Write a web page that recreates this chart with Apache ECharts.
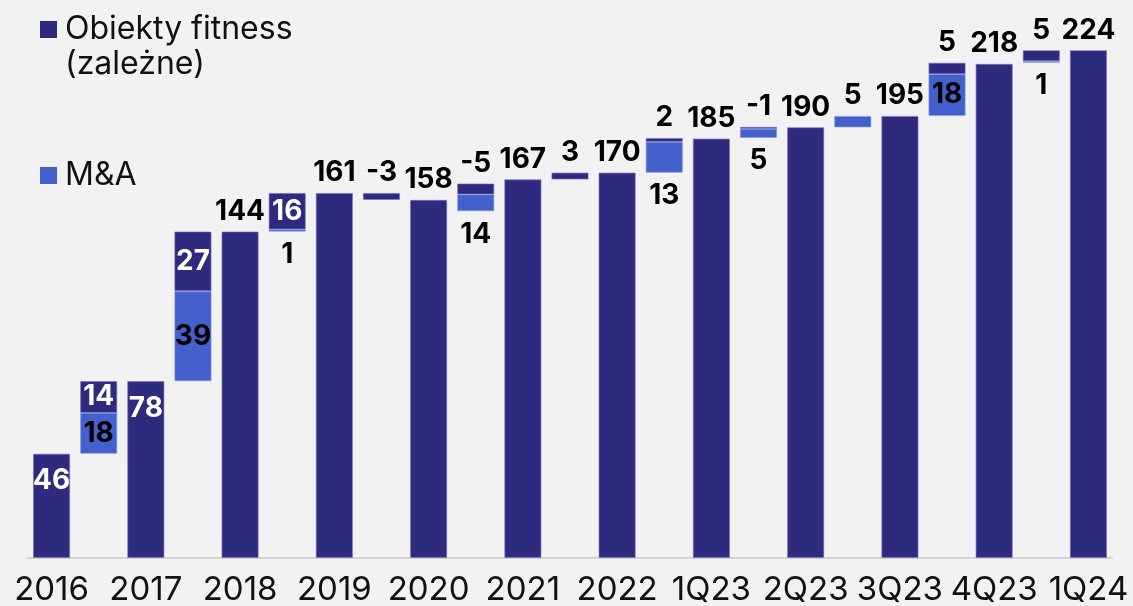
<!DOCTYPE html>
<html><head><meta charset="utf-8">
<script src="https://cdn.jsdelivr.net/npm/echarts@6/dist/echarts.min.js"></script>
<style>html,body{margin:0;padding:0;background:#f2f2f2}#c{width:1133px;height:606px}</style>
</head><body><div id="c"></div>
<script>
// ---- data ----
const periods = ['2016','2017','2018','2019','2020','2021','2022','1Q23','2Q23','3Q23','4Q23','1Q24'];
const totals = [46,78,144,161,158,167,170,185,190,195,218,224];
// bridge bars between consecutive totals (as drawn)
const deltaBase = [46,78,144,158,153,167,170,185.3,190,195,218.5];
const deltaMA = [18,39.7,1,0,7.4,0,13.6,4,5,18.5,0.7];
const deltaOrganic = [14,26.3,16,3,4.8,3,1.7,0.9,0,5,4.8];
const maLabels = ['18','39','1','','14','','13','5','5','18','1'];
const organicLabels = ['14','27','16','-3','-5','3','2','-1','','5','5'];
const legendNames = ['Obiekty fitness\n(zależne)','M&A'];

const DARK = '#2e2a7d', LIGHT = '#4360cc';
const FONT = 'Inter';
const lbl = (text, pos, dist, color) => ({show:true, position:pos, distance:dist, color:color,
  formatter:text, fontFamily:FONT, fontWeight:'bold', fontSize:28});

const cats=[], base=[], ma=[], org=[];
periods.forEach((p,i)=>{
  cats.push(p); base.push(0); ma.push('-');
  const t = totals[i];
  org.push({value:t, label: t<100 ? lbl(String(t),'insideTop',13,'#fff') : lbl(String(t),'top',6,'#000')});
  if(i < periods.length-1){
    cats.push(p+'→'+periods[i+1]);
    base.push(deltaBase[i]);
    const m = deltaMA[i], o = deltaOrganic[i];
    if(m>0){
      let l;
      if(!maLabels[i]) l={show:false};
      else if(m>=15) l=lbl(maLabels[i],'inside',0,'#000');
      else if(o>0) l=lbl(maLabels[i],'bottom',9,'#000');
      else l=lbl(maLabels[i],'top',6,'#000');
      ma.push({value:m, label:l});
    } else ma.push('-');
    if(o>0){
      let l;
      if(!organicLabels[i]) l={show:false};
      else if(o>=10) l=lbl(organicLabels[i],'inside',0,'#fff');
      else l=lbl(organicLabels[i],'top',6,'#000');
      org.push({value:o, label:l});
    } else org.push('-');
  }
});

const chart = echarts.init(document.getElementById('c'));
chart.setOption({
  backgroundColor:'#f2f2f2',
  animation:false,
  grid:{left:28, right:21, top:14, bottom:48, containLabel:false, outerBoundsMode:'none'},
  xAxis:{type:'category', data:cats,
    axisLine:{lineStyle:{color:'#d4d4d4', width:2}},
    axisTick:{show:false},
    axisLabel:{interval:0, margin:16, color:'#111', fontFamily:FONT, fontSize:33,
      formatter:(v,idx)=> idx%2===0 ? v : ''}},
  yAxis:{type:'value', min:0, max:240, show:false, splitLine:{show:false}},
  series:[
    {name:'base', type:'bar', stack:'w', barWidth:37, data:base,
     itemStyle:{color:'transparent'}, silent:true},
    {name:legendNames[1], type:'bar', stack:'w', barWidth:37, data:ma,
     itemStyle:{color:LIGHT, borderColor:'rgba(130,150,230,0.8)', borderWidth:0.8}},
    {name:legendNames[0], type:'bar', stack:'w', barWidth:37, data:org,
     itemStyle:{color:DARK, borderColor:'rgba(120,115,200,0.8)', borderWidth:0.8}}
  ],
  graphic:[
    {type:'rect', shape:{x:40,y:21,width:17,height:17}, style:{fill:DARK}},
    {type:'text', left:65, top:12, style:{text:legendNames[0], font:'32px Inter', fill:'#111', lineHeight:35}},
    {type:'rect', shape:{x:40,y:167,width:17,height:17}, style:{fill:LIGHT}},
    {type:'text', left:65, top:158, style:{text:legendNames[1], font:'32px Inter', fill:'#111', lineHeight:35}}
  ]
});
</script></body></html>
